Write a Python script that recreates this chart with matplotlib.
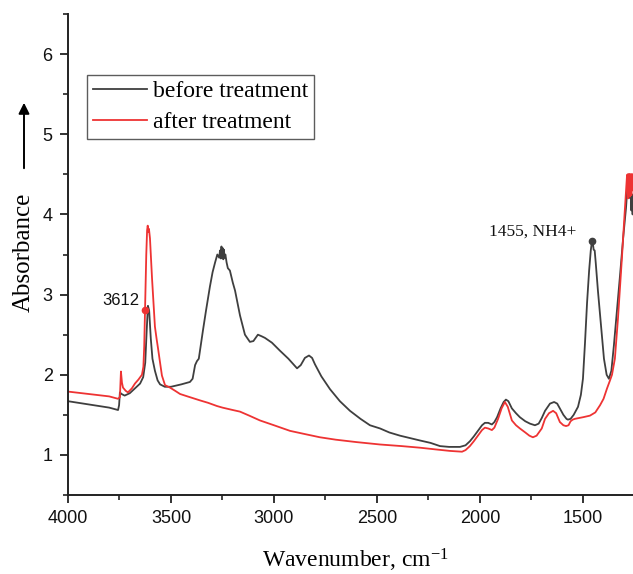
import matplotlib
matplotlib.use("Agg")
import matplotlib.pyplot as plt
from matplotlib.ticker import MultipleLocator

plt.rcParams["mathtext.fontset"] = "custom"
plt.rcParams["mathtext.rm"] = "Liberation Serif"
plt.rcParams["mathtext.it"] = "Liberation Serif:italic"

# before treatment (wavenumber, absorbance)
wn_before = [4000, 3900, 3800, 3757, 3752, 3748, 3740, 3725, 3700, 3675, 3650, 3635, 3625,
             3618, 3612, 3606, 3598, 3590, 3578, 3565, 3553, 3530, 3500, 3450, 3408,
             3395, 3383, 3374, 3365, 3345, 3330, 3311, 3298, 3286, 3275, 3266, 3262,
             3258, 3255, 3252, 3249, 3246, 3243, 3240, 3236, 3230, 3224, 3214, 3200,
             3189, 3165, 3141, 3117, 3100, 3078, 3060, 3044, 3010, 2971, 2930, 2898,
             2888, 2870, 2850, 2830, 2815, 2801, 2770, 2728, 2680, 2631, 2580, 2534,
             2485, 2440, 2388, 2340, 2291, 2240, 2194, 2150, 2097, 2070, 2049, 2030,
             2010, 1990, 1976, 1960, 1942, 1930, 1917, 1900, 1885, 1874, 1862, 1845,
             1825, 1806, 1780, 1757, 1733, 1715, 1700, 1684, 1660, 1640, 1625, 1612,
             1595, 1580, 1573, 1560, 1545, 1524, 1510, 1500, 1490, 1480, 1470, 1462,
             1456, 1452, 1448, 1443, 1438, 1427, 1412, 1398, 1385, 1374, 1362, 1350,
             1335, 1320, 1305, 1291, 1282, 1278, 1275, 1272, 1270, 1268, 1265, 1262,
             1259, 1257]
abs_before = [1.67, 1.63, 1.59, 1.56, 1.62, 1.78, 1.76, 1.74, 1.77, 1.83, 1.89, 1.97, 2.15,
              2.55, 2.86, 2.80, 2.45, 2.20, 2.05, 1.93, 1.88, 1.85, 1.85, 1.88, 1.91,
              1.95, 2.12, 2.17, 2.20, 2.55, 2.80, 3.10, 3.28, 3.40, 3.50, 3.46, 3.55,
              3.45, 3.60, 3.48, 3.58, 3.44, 3.56, 3.46, 3.50, 3.40, 3.33, 3.30, 3.15,
              3.05, 2.74, 2.50, 2.41, 2.42, 2.50, 2.48, 2.46, 2.40, 2.30, 2.20, 2.11,
              2.08, 2.12, 2.21, 2.24, 2.21, 2.13, 1.98, 1.82, 1.67, 1.55, 1.45, 1.37,
              1.33, 1.28, 1.24, 1.21, 1.18, 1.15, 1.11, 1.10, 1.10, 1.12, 1.17, 1.23,
              1.30, 1.37, 1.40, 1.40, 1.38, 1.41, 1.47, 1.58, 1.66, 1.69, 1.67, 1.58,
              1.52, 1.47, 1.42, 1.39, 1.37, 1.39, 1.46, 1.55, 1.64, 1.66, 1.64, 1.58,
              1.50, 1.45, 1.44, 1.45, 1.50, 1.60, 1.75, 1.95, 2.40, 2.90, 3.30, 3.55,
              3.67, 3.64, 3.56, 3.55, 3.40, 3.04, 2.60, 2.20, 2.00, 1.95, 2.05, 2.36,
              2.80, 3.24, 3.70, 4.08, 4.41, 4.30, 4.50, 4.48, 4.20, 4.35, 4.05, 4.25,
              4.00, 4.10]

# after treatment (wavenumber, absorbance)
wn_after = [4000, 3900, 3800, 3757, 3748, 3743, 3738, 3733, 3720, 3709, 3690, 3675, 3658,
            3641, 3634, 3630, 3626, 3620, 3616, 3613, 3610, 3607, 3602, 3597, 3592,
            3585, 3578, 3570, 3563, 3553, 3544, 3529, 3505, 3480, 3456, 3420, 3359,
            3320, 3277, 3250, 3200, 3165, 3120, 3068, 3000, 2922, 2850, 2777, 2700,
            2600, 2485, 2380, 2291, 2220, 2146, 2087, 2070, 2049, 2030, 2010, 1990,
            1976, 1960, 1942, 1930, 1912, 1895, 1879, 1865, 1845, 1825, 1806, 1780,
            1760, 1743, 1725, 1700, 1684, 1665, 1645, 1630, 1612, 1595, 1582, 1570,
            1560, 1550, 1539, 1520, 1500, 1466, 1440, 1417, 1400, 1383, 1370, 1359,
            1345, 1330, 1311, 1298, 1286, 1283, 1281, 1279, 1277, 1275, 1273, 1271,
            1269, 1267, 1265, 1263, 1261, 1259, 1257]
abs_after = [1.79, 1.76, 1.73, 1.70, 1.72, 2.04, 1.90, 1.84, 1.80, 1.78, 1.83, 1.89, 1.94,
             2.00, 2.10, 2.35, 2.81, 3.50, 3.80, 3.86, 3.78, 3.82, 3.70, 3.45, 3.20,
             2.90, 2.60, 2.45, 2.33, 2.15, 1.99, 1.87, 1.84, 1.80, 1.76, 1.73, 1.68,
             1.65, 1.61, 1.59, 1.56, 1.54, 1.49, 1.43, 1.37, 1.30, 1.26, 1.22, 1.19,
             1.16, 1.13, 1.11, 1.09, 1.07, 1.05, 1.04, 1.06, 1.11, 1.17, 1.24, 1.31,
             1.34, 1.33, 1.31, 1.34, 1.45, 1.58, 1.66, 1.60, 1.43, 1.37, 1.33, 1.28,
             1.24, 1.22, 1.24, 1.33, 1.45, 1.52, 1.55, 1.52, 1.41, 1.37, 1.36, 1.37,
             1.42, 1.44, 1.45, 1.46, 1.47, 1.49, 1.53, 1.62, 1.70, 1.83, 1.92, 2.00,
             2.20, 2.70, 3.45, 4.00, 4.49, 4.50, 4.20, 4.50, 4.25, 4.50, 4.22, 4.50,
             4.28, 4.50, 4.24, 4.50, 4.30, 4.50, 4.35]

series_labels = ["before treatment", "after treatment"]
series_colors = ["#3f3f3f", "#ee3333"]

# marked peaks: (wavenumber, absorbance, text)
mark_red = (3626, 2.81, "3612")
mark_black = (1456, 3.67, "1455, NH4+")

W, H = 633, 574
fig = plt.figure(figsize=(W / 100, H / 100), dpi=100)
ax = fig.add_axes([68 / W, 1 - 495 / H, (W - 68) / W, (495 - 14) / H])

ax.plot(wn_before, abs_before, color=series_colors[0], lw=1.3, label=series_labels[0])
ax.plot(wn_after, abs_after, color=series_colors[1], lw=1.3, label=series_labels[1])

ax.plot([mark_red[0]], [mark_red[1]], "o", color=series_colors[1], ms=4.5)
ax.text(mark_red[0] + 25, mark_red[1] + 0.12, mark_red[2], ha="right", va="center",
        fontsize=12, fontfamily="Liberation Sans", color="#111111")
ax.plot([mark_black[0]], [mark_black[1]], "o", color=series_colors[0], ms=4.5)
ax.text(mark_black[0] + 77, mark_black[1] + 0.12, mark_black[2], ha="right", va="center",
        fontsize=12.5, fontfamily="Liberation Serif", color="#111111")

ax.set_xlim(4000, 1257)
ax.set_ylim(0.5, 6.5)
ax.xaxis.set_major_locator(MultipleLocator(500))
ax.xaxis.set_minor_locator(MultipleLocator(250))
ax.yaxis.set_major_locator(MultipleLocator(1))
ax.yaxis.set_minor_locator(MultipleLocator(0.5))
ax.set_yticks([1, 2, 3, 4, 5, 6])

for s in ["top", "right"]:
    ax.spines[s].set_visible(False)
for s in ["left", "bottom"]:
    ax.spines[s].set_linewidth(1.4)
    ax.spines[s].set_color("#222222")
ax.tick_params(which="major", direction="out", length=6, width=1.3, labelsize=13, pad=5,
               colors="#222222")
ax.tick_params(which="minor", direction="out", length=3.5, width=1.2, colors="#222222")
for lab in ax.get_xticklabels() + ax.get_yticklabels():
    lab.set_family("Liberation Sans")
    lab.set_color("#111111")

fig.text(355 / W, 1 - 560 / H, "Wavenumber, cm$^{\\mathregular{-1}}$", ha="center", va="center",
         fontsize=17, family="Liberation Serif")
fig.text(24 / W, 1 - 252 / H, "Absorbance", rotation=90, ha="center", va="center",
         fontsize=18, family="Liberation Serif")
fig.add_artist(matplotlib.patches.FancyArrowPatch(
    (24 / W, 1 - 171 / H), (24 / W, 1 - 100 / H), transform=fig.transFigure,
    arrowstyle="-|>", mutation_scale=16, lw=1.4, color="black"))

leg = ax.legend(loc="upper left", bbox_to_anchor=((87 - 68) / (W - 68), 1 - (75 - 14) / (495 - 14)),
                frameon=True, fancybox=False, prop={"family": "Liberation Serif", "size": 17},
                handlelength=2.3, handletextpad=0.25, borderpad=0.25, labelspacing=0.38,
                borderaxespad=0)
leg.get_frame().set_edgecolor("#333333")
leg.get_frame().set_linewidth(1.0)

fig.savefig("out.png", dpi=100)
